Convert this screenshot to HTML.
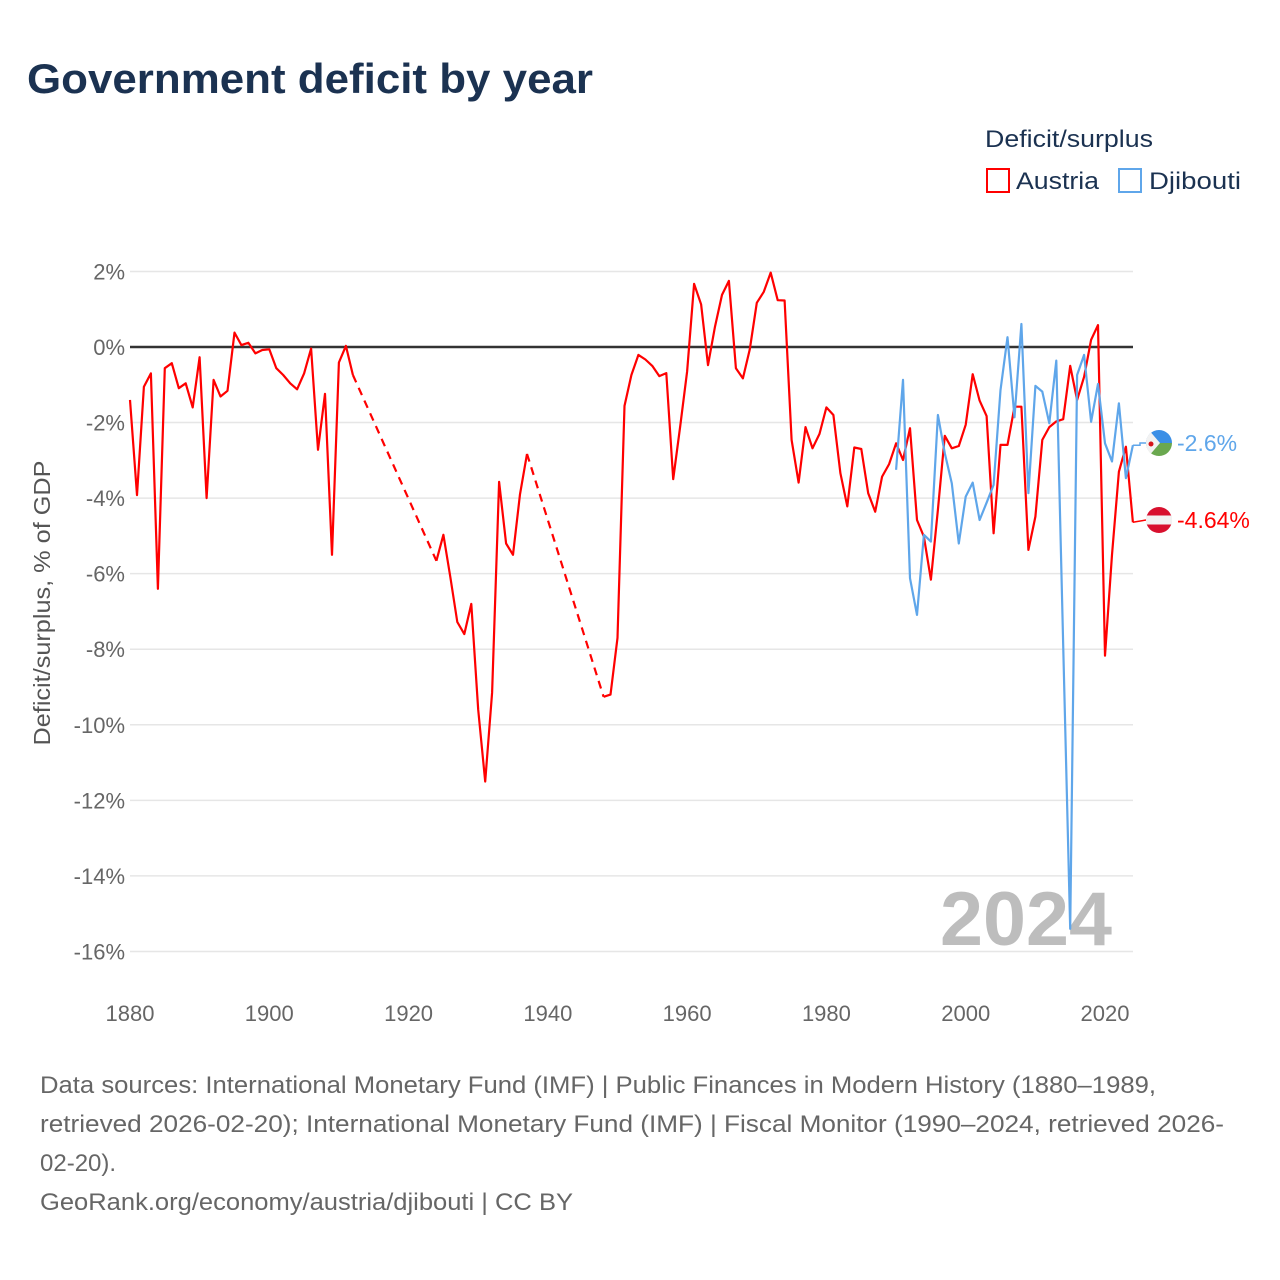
<!DOCTYPE html>
<html><head><meta charset="utf-8"><style>
html,body{margin:0;padding:0;background:#fff;}
svg{display:block;font-family:"Liberation Sans",sans-serif;}
</style></head><body>
<svg id="chart" width="1280" height="1280" viewBox="0 0 1280 1280">
<text x="27" y="93" font-size="42" font-weight="bold" fill="#1b3251" textLength="566" lengthAdjust="spacingAndGlyphs">Government deficit by year</text>
<text x="985" y="147" font-size="24" fill="#1b3251" textLength="168" lengthAdjust="spacingAndGlyphs">Deficit/surplus</text>
<g>
<rect x="987" y="169" width="22" height="23" fill="none" stroke="#ff0000" stroke-width="2"/>
<text x="1016" y="189" font-size="24" fill="#1b3251" textLength="83" lengthAdjust="spacingAndGlyphs">Austria</text>
</g>
<g>
<rect x="1119" y="169" width="22" height="23" fill="none" stroke="#5fa6ea" stroke-width="2"/>
<text x="1149" y="189" font-size="24" fill="#1b3251" textLength="92" lengthAdjust="spacingAndGlyphs">Djibouti</text>
</g>
<g id="grid"></g>
<g id="yticks"></g>
<g id="xticks"></g>
<text x="1112" y="945" font-size="76" font-weight="bold" fill="#bdbdbd" text-anchor="end" textLength="172" lengthAdjust="spacingAndGlyphs">2024</text>
<g id="series"></g>
<text transform="translate(50,603) rotate(-90)" font-size="23" fill="#555" text-anchor="middle" textLength="285" lengthAdjust="spacingAndGlyphs">Deficit/surplus, % of GDP</text>
<g font-size="24" fill="#666">
<text x="40" y="1093" textLength="1116" lengthAdjust="spacingAndGlyphs">Data sources: International Monetary Fund (IMF) | Public Finances in Modern History (1880–1989,</text>
<text x="40" y="1132" textLength="1184" lengthAdjust="spacingAndGlyphs">retrieved 2026-02-20); International Monetary Fund (IMF) | Fiscal Monitor (1990–2024, retrieved 2026-</text>
<text x="40" y="1171">02-20).</text>
<text x="40" y="1210" textLength="533" lengthAdjust="spacingAndGlyphs">GeoRank.org/economy/austria/djibouti | CC BY</text>
</g>
</svg>
<script>
const austriaYears = [1880,1881,1882,1883,1884,1885,1886,1887,1888,1889,1890,1891,1892,1893,1894,1895,1896,1897,1898,1899,1900,1901,1902,1903,1904,1905,1906,1907,1908,1909,1910,1911,1912,
1924,1925,1926,1927,1928,1929,1930,1931,1932,1933,1934,1935,1936,1937,
1948,1949,1950,1951,1952,1953,1954,1955,1956,1957,1958,1959,1960,1961,1962,1963,1964,1965,1966,1967,1968,1969,1970,1971,1972,1973,1974,1975,1976,1977,1978,1979,1980,1981,1982,1983,1984,1985,1986,1987,1988,1989,1990,1991,1992,1993,1994,1995,1996,1997,1998,1999,2000,2001,2002,2003,2004,2005,2006,2007,2008,2009,2010,2011,2012,2013,2014,2015,2016,2017,2018,2019,2020,2021,2022,2023,2024];
const austriaValues = [-1.4,-3.92,-1.05,-0.7,-6.4,-0.56,-0.43,-1.09,-0.96,-1.6,-0.27,-4.0,-0.87,-1.31,-1.16,0.38,0.05,0.11,-0.17,-0.08,-0.06,-0.56,-0.74,-0.96,-1.12,-0.7,-0.04,-2.72,-1.24,-5.5,-0.41,0.03,-0.74,
-5.66,-4.97,-6.1,-7.28,-7.6,-6.8,-9.6,-11.5,-9.15,-3.57,-5.2,-5.5,-3.9,-2.83,
-9.26,-9.2,-7.7,-1.56,-0.74,-0.21,-0.33,-0.5,-0.77,-0.69,-3.5,-2.1,-0.65,1.67,1.13,-0.48,0.54,1.38,1.75,-0.56,-0.83,-0.06,1.17,1.46,1.97,1.24,1.23,-2.46,-3.59,-2.12,-2.68,-2.3,-1.6,-1.8,-3.34,-4.22,-2.66,-2.7,-3.87,-4.36,-3.43,-3.1,-2.55,-2.99,-2.15,-4.58,-5.02,-6.16,-4.31,-2.35,-2.68,-2.62,-2.06,-0.72,-1.42,-1.83,-4.93,-2.59,-2.59,-1.58,-1.58,-5.37,-4.49,-2.46,-2.12,-1.97,-1.91,-0.5,-1.4,-0.79,0.19,0.58,-8.17,-5.5,-3.3,-2.64,-4.64];
const djiboutiYears = [1990,1991,1992,1993,1994,1995,1996,1997,1998,1999,2000,2001,2002,2003,2004,2005,2006,2007,2008,2009,2010,2011,2012,2013,2014,2015,2016,2017,2018,2019,2020,2021,2022,2023,2024];
const djiboutiValues = [-3.25,-0.87,-6.12,-7.09,-4.97,-5.15,-1.8,-2.81,-3.61,-5.2,-3.96,-3.59,-4.58,-4.12,-3.65,-1.14,0.26,-1.86,0.61,-3.87,-1.03,-1.18,-2.02,-0.36,-7.9,-15.4,-0.74,-0.21,-1.98,-0.98,-2.55,-3.03,-1.49,-3.47,-2.6];
const yTicks = [2,0,-2,-4,-6,-8,-10,-12,-14,-16];
const xTicks = [1880,1900,1920,1940,1960,1980,2000,2020];

const NS = "http://www.w3.org/2000/svg";
function xs(yr){ return 130 + (yr-1880)*(975/140); }
function ys(v){ return 347 - v*37.78; }
function mk(tag, attrs, parent){ const e=document.createElementNS(NS,tag); for(const k in attrs) e.setAttribute(k,attrs[k]); parent.appendChild(e); return e; }

const grid=document.getElementById('grid'), yt=document.getElementById('yticks'), xt=document.getElementById('xticks'), ser=document.getElementById('series');
yTicks.forEach(v=>{
  if(v!==0){
    const l=mk('line',{x1:130,x2:1133,y1:ys(v),y2:ys(v),stroke:'#e6e6e6','stroke-width':1.5},grid);
    
    
  }
  const t=mk('text',{x:125,y:ys(v)+8,'font-size':22,fill:'#666','text-anchor':'end'},yt);
  t.textContent=v+'%';
  
  
});
xTicks.forEach(y=>{
  const t=mk('text',{x:xs(y),y:1021,'font-size':22,fill:'#666','text-anchor':'middle'},xt);
  t.textContent=y;
  
  
});
const zl=mk('line',{x1:130,x2:1133,y1:ys(0),y2:ys(0),stroke:'#333','stroke-width':2.5},grid);



function drawSeries(years, vals, color, name){
  let d='', dash='';
  for(let i=0;i<years.length;i++){
    const p=xs(years[i]).toFixed(1)+','+ys(vals[i]).toFixed(1);
    if(i>0 && years[i]-years[i-1]>1){
      dash+='M'+xs(years[i-1]).toFixed(1)+','+ys(vals[i-1]).toFixed(1)+'L'+p;
      d+='M'+p;
    } else d+=(i===0?'M':'L')+p;
  }
  const a=mk('path',{d:d,fill:'none',stroke:color,'stroke-width':2.2,'stroke-linejoin':'round'},ser);
  
  
  if(dash){
    const b=mk('path',{d:dash,fill:'none',stroke:color,'stroke-width':2.2,'stroke-dasharray':'8,6'},ser);
    
    
  }
}
drawSeries(austriaYears, austriaValues, '#ff0000', 'austria');
drawSeries(djiboutiYears, djiboutiValues, '#5fa6ea', 'djibouti');

const dj=djiboutiValues[djiboutiValues.length-1], au=austriaValues[austriaValues.length-1];
const djY=443, auY=520;
const l1=mk('path',{d:'M'+xs(2024)+','+ys(dj)+'L1140,'+ys(dj)+'L1140,'+djY+'L1146,'+djY,fill:'none',stroke:'#5fa6ea','stroke-width':1.5},ser);


const l2=mk('path',{d:'M'+xs(2024)+','+ys(au)+'L1146,'+auY,fill:'none',stroke:'#ff0000','stroke-width':1.5},ser);



const f1=mk('g',{},ser);


mk('path',{d:'M1146,443 A13,13 0 0 1 1172,443 Z',fill:'#3b8fe6'},f1);
mk('path',{d:'M1146,443 A13,13 0 0 0 1172,443 Z',fill:'#6aa84f'},f1);
mk('path',{d:'M1146,443 A13,13 0 0 1 1151,432.5 L1160,443 L1151,453.5 A13,13 0 0 1 1146,443Z',fill:'#f2f2f2'},f1);
mk('circle',{cx:1151,cy:444,r:2.5,fill:'#d7141a'},f1);
const f2=mk('g',{},ser);


mk('circle',{cx:1159,cy:520,r:13,fill:'#d8102e'},f2);
mk('rect',{x:1146,y:515.5,width:26,height:9,fill:'#f2f2f2'},f2);

const t1=mk('text',{x:1177,y:451,'font-size':23,fill:'#5fa6ea'},ser);
t1.textContent=dj+'%';


const t2=mk('text',{x:1177,y:528,'font-size':23,fill:'#ff0000'},ser);
t2.textContent=au+'%';


</script>
</body></html>
